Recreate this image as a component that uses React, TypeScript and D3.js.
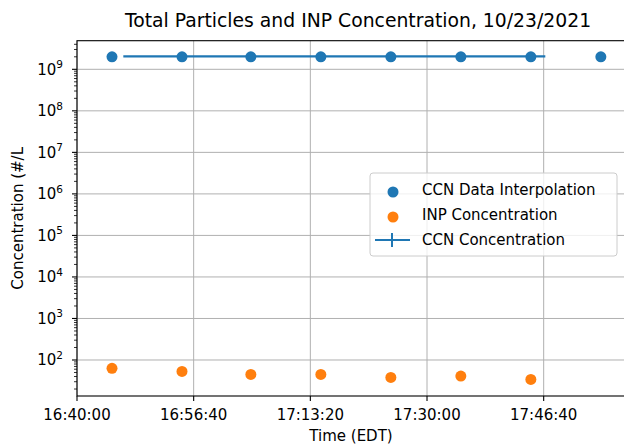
import React, { useEffect, useRef } from 'react';
import * as d3 from 'd3';

// times are seconds since midnight (EDT)
const hms = (s: string) => {
  const [h, m, sec] = s.split(':').map(Number);
  return h * 3600 + m * 60 + sec;
};

// CCN data interpolation (blue dots)
const interpTimes = ['16:45:00', '16:55:00', '17:04:50', '17:14:50', '17:24:50', '17:34:50', '17:44:50', '17:54:50'];
const interpValues = [2.0e9, 2.0e9, 2.0e9, 2.0e9, 2.0e9, 2.0e9, 2.0e9, 2.0e9];

// INP concentration (orange dots)
const inpTimes = ['16:45:00', '16:55:00', '17:04:50', '17:14:50', '17:24:50', '17:34:50', '17:44:50'];
const inpValues = [63, 53, 45, 45, 38, 41, 34];

// CCN concentration (errorbar line)
const ccnTimes = ['16:46:37', '16:56:40', '17:06:40', '17:16:40', '17:26:40', '17:36:40', '17:46:54'];
const ccnValues = [2.05e9, 2.05e9, 2.05e9, 2.05e9, 2.05e9, 2.05e9, 2.05e9];

const xTickLabels = ['16:40:00', '16:56:40', '17:13:20', '17:30:00', '17:46:40'];
const yTickExponents = [2, 3, 4, 5, 6, 7, 8, 9];

const BLUE = '#1f77b4';
const ORANGE = '#ff7f0e';
const FONT = '"DejaVu Sans", sans-serif';

const App = () => {
  const ref = useRef<SVGSVGElement>(null);

  useEffect(() => {
    const svg = d3.select(ref.current);
    svg.selectAll('*').remove();

    const left = 77, right = 625, top = 40.7, bottom = 396;

    const x = d3.scaleLinear().domain([hms('16:40:00'), hms('16:40:00') + (right - left) / 0.11667]).range([left, right]);
    const y = d3.scaleLog().domain([Math.pow(10, 1.133), Math.pow(10, 9.689)]).range([bottom, top]);

    // grid
    const grid = svg.append('g');
    xTickLabels.forEach(t => {
      grid.append('line')
        .attr('x1', x(hms(t))).attr('x2', x(hms(t)))
        .attr('y1', top).attr('y2', bottom)
        .attr('stroke', '#b0b0b0').attr('stroke-width', 1);
    });
    yTickExponents.forEach(e => {
      grid.append('line')
        .attr('x1', left).attr('x2', right)
        .attr('y1', y(Math.pow(10, e))).attr('y2', y(Math.pow(10, e)))
        .attr('stroke', '#b0b0b0').attr('stroke-width', 1);
    });

    // CCN concentration line
    const ccn = ccnTimes.map((t, i) => ({ t: hms(t), v: ccnValues[i] }));
    const line = d3.line<{ t: number; v: number }>().x(d => x(d.t)).y(d => y(d.v));
    svg.append('path')
      .datum(ccn)
      .attr('fill', 'none')
      .attr('stroke', BLUE)
      .attr('stroke-width', 2.2)
      .attr('d', line);

    // scatter points
    svg.selectAll('.interp')
      .data(interpTimes.map((t, i) => ({ t: hms(t), v: interpValues[i] })))
      .enter().append('circle')
      .attr('cx', d => x(d.t)).attr('cy', d => y(d.v))
      .attr('r', 5.5).attr('fill', BLUE);

    svg.selectAll('.inp')
      .data(inpTimes.map((t, i) => ({ t: hms(t), v: inpValues[i] })))
      .enter().append('circle')
      .attr('cx', d => x(d.t)).attr('cy', d => y(d.v))
      .attr('r', 5.5).attr('fill', ORANGE);

    // spines
    svg.append('rect')
      .attr('x', left).attr('y', top)
      .attr('width', right - left).attr('height', bottom - top)
      .attr('fill', 'none').attr('stroke', '#000').attr('stroke-width', 1.1);

    // x ticks
    xTickLabels.forEach(t => {
      const px = x(hms(t));
      svg.append('line')
        .attr('x1', px).attr('x2', px).attr('y1', bottom).attr('y2', bottom + 5)
        .attr('stroke', '#000').attr('stroke-width', 1.1);
      svg.append('text')
        .attr('x', px).attr('y', bottom + 24)
        .attr('text-anchor', 'middle')
        .style('font-family', FONT).style('font-size', '15px').attr('fill', '#000')
        .text(t);
    });

    // y major ticks
    yTickExponents.forEach(e => {
      const py = y(Math.pow(10, e));
      svg.append('line')
        .attr('x1', left - 5).attr('x2', left).attr('y1', py).attr('y2', py)
        .attr('stroke', '#000').attr('stroke-width', 1.1);
      const txt = svg.append('text')
        .attr('x', left - 14).attr('y', py + 5.5)
        .attr('text-anchor', 'end')
        .style('font-family', FONT).style('font-size', '15px').attr('fill', '#000');
      txt.append('tspan').text('10');
      txt.append('tspan').attr('dy', -6.5).style('font-size', '10.5px').text(String(e));
    });

    // y minor ticks
    const [lo, hi] = y.domain();
    for (let e = 1; e <= 9; e++) {
      for (let k = 2; k <= 9; k++) {
        const v = k * Math.pow(10, e);
        if (v < lo || v > hi) continue;
        svg.append('line')
          .attr('x1', left - 3).attr('x2', left).attr('y1', y(v)).attr('y2', y(v))
          .attr('stroke', '#000').attr('stroke-width', 0.8);
      }
    }

    // title and axis labels
    svg.append('text')
      .attr('x', 358).attr('y', 27)
      .attr('text-anchor', 'middle')
      .style('font-family', FONT).style('font-size', '18.8px').attr('fill', '#000')
      .text('Total Particles and INP Concentration, 10/23/2021');

    svg.append('text')
      .attr('x', 351).attr('y', 441)
      .attr('text-anchor', 'middle')
      .style('font-family', FONT).style('font-size', '15px').attr('fill', '#000')
      .text('Time (EDT)');

    svg.append('text')
      .attr('transform', `translate(23, ${(top + bottom) / 2}) rotate(-90)`)
      .attr('text-anchor', 'middle')
      .style('font-family', FONT).style('font-size', '15px').attr('fill', '#000')
      .text('Concentration (#/L');

    // legend
    const lg = svg.append('g');
    lg.append('rect')
      .attr('x', 370).attr('y', 173).attr('width', 247).attr('height', 83)
      .attr('rx', 3)
      .attr('fill', 'rgba(255,255,255,0.8)').attr('stroke', '#cccccc');

    const rows = [
      { label: 'CCN Data Interpolation', kind: 'dot', color: BLUE },
      { label: 'INP Concentration', kind: 'dot', color: ORANGE },
      { label: 'CCN Concentration', kind: 'err', color: BLUE },
    ];
    rows.forEach((r, i) => {
      const ry = 190 + i * 25;
      if (r.kind === 'dot') {
        lg.append('circle').attr('cx', 393).attr('cy', ry + 2).attr('r', 5.5).attr('fill', r.color);
      } else {
        lg.append('line').attr('x1', 375).attr('x2', 410).attr('y1', ry).attr('y2', ry)
          .attr('stroke', r.color).attr('stroke-width', 2);
        lg.append('line').attr('x1', 392).attr('x2', 392).attr('y1', ry - 7).attr('y2', ry + 7)
          .attr('stroke', r.color).attr('stroke-width', 2);
      }
      lg.append('text')
        .attr('x', 422).attr('y', ry)
        .attr('dominant-baseline', 'central')
        .style('font-family', FONT).style('font-size', '15px').attr('fill', '#000')
        .text(r.label);
    });
  }, []);

  return <svg ref={ref} width={624} height={445} style={{ position: 'absolute', left: 0, top: 0, background: '#fff' }} />;
};

export default App;
